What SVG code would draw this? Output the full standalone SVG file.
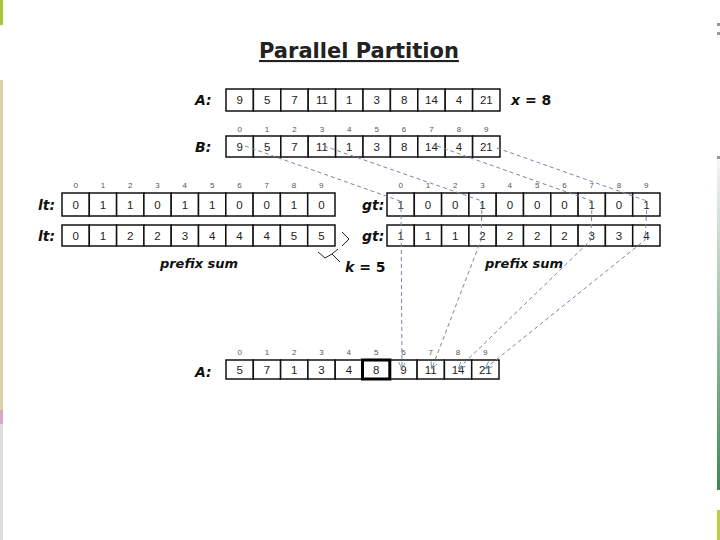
<svg xmlns="http://www.w3.org/2000/svg" width="720" height="540" viewBox="0 0 720 540">
<style>
.cell{fill:#fff;stroke:#111;stroke-width:1.5}
.v{font-family:"Liberation Sans",Arial,sans-serif;font-size:11.5px;fill:#222;text-anchor:middle}
.i{font-family:"Liberation Sans",Arial,sans-serif;font-size:8px;fill:#555;text-anchor:middle}
.lbl{font-family:"DejaVu Sans",sans-serif;font-size:14px;font-weight:bold;font-style:italic;fill:#111}
.ps{font-family:"DejaVu Sans",sans-serif;font-size:13px;font-weight:bold;font-style:italic;fill:#111;text-anchor:middle}
.con{fill:none;stroke:#7589a6;stroke-width:1;stroke-dasharray:4 3}
</style>
<defs>
<marker id="ah" viewBox="0 0 8 8" refX="7" refY="4" markerWidth="7" markerHeight="7" orient="auto" markerUnits="userSpaceOnUse">
<path d="M0,0 L8,4 L0,8" fill="none" stroke="#7589a6" stroke-width="1"/>
</marker>
</defs>
<rect width="720" height="540" fill="#fff"/>
<!-- slide edge decorations -->
<rect x="0" y="0" width="3" height="25" fill="#a8c83a"/>
<rect x="0" y="80" width="3" height="330" fill="#d8d2a8"/>
<rect x="0" y="410" width="3" height="14" fill="#d8a8c8"/>
<rect x="0" y="424" width="3" height="116" fill="#ddd"/>
<rect x="717" y="23" width="3" height="3" fill="#999"/>
<rect x="717" y="32" width="3" height="3" fill="#999"/>
<rect x="717" y="156" width="3" height="3" fill="#999"/>
<defs><linearGradient id="rg" x1="0" y1="0" x2="0" y2="1"><stop offset="0" stop-color="#f4f4f4"/><stop offset="1" stop-color="#3a8a50"/></linearGradient></defs>
<rect x="717" y="160" width="3" height="330" fill="url(#rg)"/>
<rect x="717" y="510" width="3" height="30" fill="#b8d040"/>

<g id="title">
<text x="359" y="58" font-family="DejaVu Sans,sans-serif" font-size="21" font-weight="bold" fill="#222" text-anchor="middle" text-decoration="underline">Parallel Partition</text>
</g>

<g id="arrayA">
<text class="lbl" x="195" y="105">A:</text>
<g transform="translate(226,89)">
<rect class="cell" x="0" y="0" width="27.4" height="22"/><rect class="cell" x="27.4" y="0" width="27.4" height="22"/><rect class="cell" x="54.8" y="0" width="27.4" height="22"/><rect class="cell" x="82.2" y="0" width="27.4" height="22"/><rect class="cell" x="109.6" y="0" width="27.4" height="22"/><rect class="cell" x="137" y="0" width="27.4" height="22"/><rect class="cell" x="164.4" y="0" width="27.4" height="22"/><rect class="cell" x="191.8" y="0" width="27.4" height="22"/><rect class="cell" x="219.2" y="0" width="27.4" height="22"/><rect class="cell" x="246.6" y="0" width="27.4" height="22"/>
<text class="v" x="13.7" y="15">9</text><text class="v" x="41.1" y="15">5</text><text class="v" x="68.5" y="15">7</text><text class="v" x="95.9" y="15">11</text><text class="v" x="123.3" y="15">1</text><text class="v" x="150.7" y="15">3</text><text class="v" x="178.1" y="15">8</text><text class="v" x="205.5" y="15">14</text><text class="v" x="232.9" y="15" fill="#888">4</text><text class="v" x="260.3" y="15">21</text>
</g>
<text x="511" y="105" font-family="DejaVu Sans,sans-serif" font-size="14" font-weight="bold" fill="#111"><tspan font-style="italic">x</tspan> = 8</text>
</g>

<g id="arrayB">
<text class="lbl" x="195" y="152">B:</text>
<g transform="translate(226,136)">
<text class="i" x="13.7" y="-4">0</text><text class="i" x="41.1" y="-4">1</text><text class="i" x="68.5" y="-4">2</text><text class="i" x="95.9" y="-4">3</text><text class="i" x="123.3" y="-4">4</text><text class="i" x="150.7" y="-4">5</text><text class="i" x="178.1" y="-4">6</text><text class="i" x="205.5" y="-4">7</text><text class="i" x="232.9" y="-4">8</text><text class="i" x="260.3" y="-4">9</text>
<rect class="cell" x="0" y="0" width="27.4" height="21"/><rect class="cell" x="27.4" y="0" width="27.4" height="21"/><rect class="cell" x="54.8" y="0" width="27.4" height="21"/><rect class="cell" x="82.2" y="0" width="27.4" height="21"/><rect class="cell" x="109.6" y="0" width="27.4" height="21"/><rect class="cell" x="137" y="0" width="27.4" height="21"/><rect class="cell" x="164.4" y="0" width="27.4" height="21"/><rect class="cell" x="191.8" y="0" width="27.4" height="21"/><rect class="cell" x="219.2" y="0" width="27.4" height="21"/><rect class="cell" x="246.6" y="0" width="27.4" height="21"/>
<text class="v" x="13.7" y="15">9</text><text class="v" x="41.1" y="15">5</text><text class="v" x="68.5" y="15">7</text><text class="v" x="95.9" y="15">11</text><text class="v" x="123.3" y="15">1</text><text class="v" x="150.7" y="15">3</text><text class="v" x="178.1" y="15">8</text><text class="v" x="205.5" y="15">14</text><text class="v" x="232.9" y="15">4</text><text class="v" x="260.3" y="15">21</text>
</g>
</g>

<g id="lt">
<text class="lbl" x="38" y="210">lt:</text>
<g transform="translate(62,193)">
<text class="i" x="13.65" y="-5">0</text><text class="i" x="40.95" y="-5">1</text><text class="i" x="68.25" y="-5">2</text><text class="i" x="95.55" y="-5">3</text><text class="i" x="122.85" y="-5">4</text><text class="i" x="150.15" y="-5">5</text><text class="i" x="177.45" y="-5">6</text><text class="i" x="204.75" y="-5">7</text><text class="i" x="232.05" y="-5">8</text><text class="i" x="259.35" y="-5">9</text>
<rect class="cell" x="0" y="0" width="27.3" height="23"/><rect class="cell" x="27.3" y="0" width="27.3" height="23"/><rect class="cell" x="54.6" y="0" width="27.3" height="23"/><rect class="cell" x="81.9" y="0" width="27.3" height="23"/><rect class="cell" x="109.2" y="0" width="27.3" height="23"/><rect class="cell" x="136.5" y="0" width="27.3" height="23"/><rect class="cell" x="163.8" y="0" width="27.3" height="23"/><rect class="cell" x="191.1" y="0" width="27.3" height="23"/><rect class="cell" x="218.4" y="0" width="27.3" height="23"/><rect class="cell" x="245.7" y="0" width="27.3" height="23"/>
<text class="v" x="13.65" y="16">0</text><text class="v" x="40.95" y="16">1</text><text class="v" x="68.25" y="16">1</text><text class="v" x="95.55" y="16">0</text><text class="v" x="122.85" y="16">1</text><text class="v" x="150.15" y="16">1</text><text class="v" x="177.45" y="16">0</text><text class="v" x="204.75" y="16">0</text><text class="v" x="232.05" y="16">1</text><text class="v" x="259.35" y="16">0</text>
</g>
</g>

<g id="ltPrefix">
<text class="lbl" x="38" y="241">lt:</text>
<g transform="translate(62,225)">
<rect class="cell" x="0" y="0" width="27.3" height="21"/><rect class="cell" x="27.3" y="0" width="27.3" height="21"/><rect class="cell" x="54.6" y="0" width="27.3" height="21"/><rect class="cell" x="81.9" y="0" width="27.3" height="21"/><rect class="cell" x="109.2" y="0" width="27.3" height="21"/><rect class="cell" x="136.5" y="0" width="27.3" height="21"/><rect class="cell" x="163.8" y="0" width="27.3" height="21"/><rect class="cell" x="191.1" y="0" width="27.3" height="21"/><rect class="cell" x="218.4" y="0" width="27.3" height="21"/><rect class="cell" x="245.7" y="0" width="27.3" height="21"/>
<text class="v" x="13.65" y="15">0</text><text class="v" x="40.95" y="15">1</text><text class="v" x="68.25" y="15">2</text><text class="v" x="95.55" y="15">2</text><text class="v" x="122.85" y="15">3</text><text class="v" x="150.15" y="15">4</text><text class="v" x="177.45" y="15">4</text><text class="v" x="204.75" y="15">4</text><text class="v" x="232.05" y="15">5</text><text class="v" x="259.35" y="15">5</text>
</g>
<text class="ps" x="199" y="268">prefix sum</text>
<path d="M342,232 L349,239 L342,246" fill="none" stroke="#222" stroke-width="1"/>
<path d="M318,252 L325,258 L332,254 L338,249 M332,254 L340,262" fill="none" stroke="#222" stroke-width="1"/>
<text x="345" y="272" font-family="DejaVu Sans,sans-serif" font-size="14" font-weight="bold" fill="#111"><tspan font-style="italic">k</tspan> = 5</text>
</g>

<g id="gt">
<text class="lbl" x="362" y="210">gt:</text>
<g transform="translate(387,193)">
<text class="i" x="13.65" y="-5">0</text><text class="i" x="40.95" y="-5">1</text><text class="i" x="68.25" y="-5">2</text><text class="i" x="95.55" y="-5">3</text><text class="i" x="122.85" y="-5">4</text><text class="i" x="150.15" y="-5">5</text><text class="i" x="177.45" y="-5">6</text><text class="i" x="204.75" y="-5">7</text><text class="i" x="232.05" y="-5">8</text><text class="i" x="259.35" y="-5">9</text>
<rect class="cell" x="0" y="0" width="27.3" height="23"/><rect class="cell" x="27.3" y="0" width="27.3" height="23"/><rect class="cell" x="54.6" y="0" width="27.3" height="23"/><rect class="cell" x="81.9" y="0" width="27.3" height="23"/><rect class="cell" x="109.2" y="0" width="27.3" height="23"/><rect class="cell" x="136.5" y="0" width="27.3" height="23"/><rect class="cell" x="163.8" y="0" width="27.3" height="23"/><rect class="cell" x="191.1" y="0" width="27.3" height="23"/><rect class="cell" x="218.4" y="0" width="27.3" height="23"/><rect class="cell" x="245.7" y="0" width="27.3" height="23"/>
<text class="v" x="13.65" y="16">1</text><text class="v" x="40.95" y="16">0</text><text class="v" x="68.25" y="16">0</text><text class="v" x="95.55" y="16">1</text><text class="v" x="122.85" y="16">0</text><text class="v" x="150.15" y="16">0</text><text class="v" x="177.45" y="16">0</text><text class="v" x="204.75" y="16">1</text><text class="v" x="232.05" y="16">0</text><text class="v" x="259.35" y="16">1</text>
</g>
</g>

<g id="gtPrefix">
<text class="lbl" x="362" y="241">gt:</text>
<g transform="translate(387,225)">
<rect class="cell" x="0" y="0" width="27.3" height="21"/><rect class="cell" x="27.3" y="0" width="27.3" height="21"/><rect class="cell" x="54.6" y="0" width="27.3" height="21"/><rect class="cell" x="81.9" y="0" width="27.3" height="21"/><rect class="cell" x="109.2" y="0" width="27.3" height="21"/><rect class="cell" x="136.5" y="0" width="27.3" height="21"/><rect class="cell" x="163.8" y="0" width="27.3" height="21"/><rect class="cell" x="191.1" y="0" width="27.3" height="21"/><rect class="cell" x="218.4" y="0" width="27.3" height="21"/><rect class="cell" x="245.7" y="0" width="27.3" height="21"/>
<text class="v" x="13.65" y="15">1</text><text class="v" x="40.95" y="15">1</text><text class="v" x="68.25" y="15">1</text><text class="v" x="95.55" y="15">2</text><text class="v" x="122.85" y="15">2</text><text class="v" x="150.15" y="15">2</text><text class="v" x="177.45" y="15">2</text><text class="v" x="204.75" y="15">3</text><text class="v" x="232.05" y="15">3</text><text class="v" x="259.35" y="15">4</text>
</g>
<text class="ps" x="524" y="268">prefix sum</text>
</g>

<g id="arrayAout">
<text class="lbl" x="195" y="377">A:</text>
<g transform="translate(226,360)">
<text class="i" x="13.65" y="-5">0</text><text class="i" x="40.95" y="-5">1</text><text class="i" x="68.25" y="-5">2</text><text class="i" x="95.55" y="-5">3</text><text class="i" x="122.85" y="-5">4</text><text class="i" x="150.15" y="-5">5</text><text class="i" x="177.45" y="-5">6</text><text class="i" x="204.75" y="-5">7</text><text class="i" x="232.05" y="-5">8</text><text class="i" x="259.35" y="-5">9</text>
<rect class="cell" x="0" y="0" width="27.3" height="19"/><rect class="cell" x="27.3" y="0" width="27.3" height="19"/><rect class="cell" x="54.6" y="0" width="27.3" height="19"/><rect class="cell" x="81.9" y="0" width="27.3" height="19"/><rect class="cell" x="109.2" y="0" width="27.3" height="19"/><rect class="cell" x="163.8" y="0" width="27.3" height="19"/><rect class="cell" x="191.1" y="0" width="27.3" height="19"/><rect class="cell" x="218.4" y="0" width="27.3" height="19"/><rect class="cell" x="245.7" y="0" width="27.3" height="19"/>
<rect x="136.5" y="0" width="27.3" height="19" fill="#fff" stroke="#000" stroke-width="3"/>
<text class="v" x="13.65" y="14">5</text><text class="v" x="40.95" y="14">7</text><text class="v" x="68.25" y="14">1</text><text class="v" x="95.55" y="14">3</text><text class="v" x="122.85" y="14">4</text><text class="v" x="150.15" y="14">8</text><text class="v" x="177.45" y="14">9</text><text class="v" x="204.75" y="14">11</text><text class="v" x="232.05" y="14">14</text><text class="v" x="259.35" y="14">21</text>
</g>
</g>

<g id="connectors">
<path class="con" d="M245,146 L400,201"/>
<path class="con" d="M324,146 L482,201"/>
<path class="con" d="M437,146 L592,201"/>
<path class="con" d="M497,148 L647,201"/>
<path class="con" d="M401,201 L402,368" marker-end="url(#ah)"/>
<path class="con" d="M482,203 L481,240 L432,368" marker-end="url(#ah)"/>
<path class="con" d="M592,203 L591,240 L459,368" marker-end="url(#ah)"/>
<path class="con" d="M647,203 L645,240 L486,368" marker-end="url(#ah)"/>
</g>
</svg>
